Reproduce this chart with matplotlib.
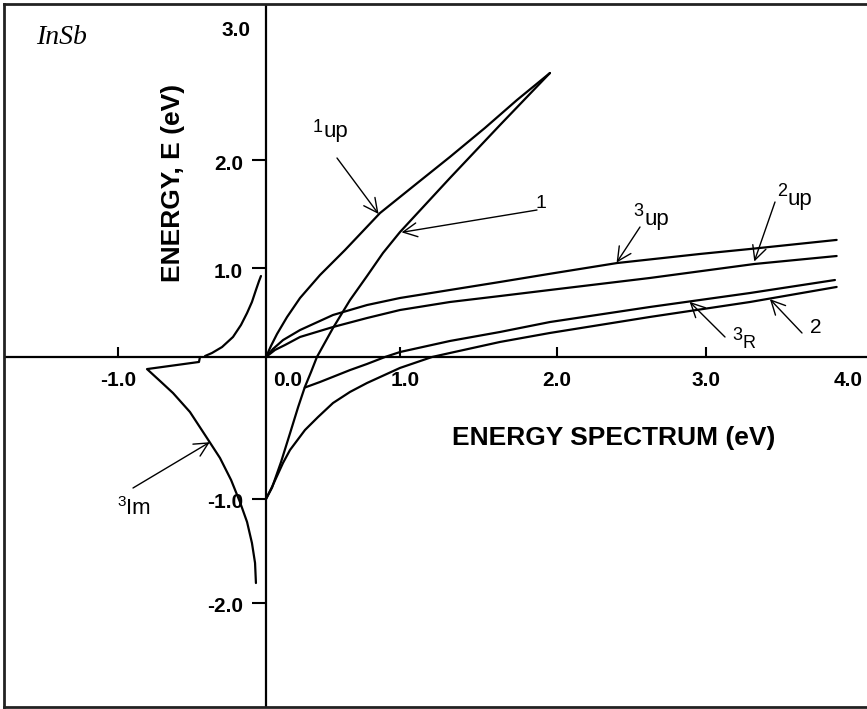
import numpy as np
import matplotlib.pyplot as plt

plt.rcParams["font.family"] = ["Liberation Sans", "DejaVu Sans"]

# spectrum branches for InSb, energies in eV
up1_x = [0.0, 0.037, 0.082, 0.157, 0.254, 0.403, 0.59, 0.851, 1.127, 1.318, 1.541, 1.745, 1.955]
up1_e = [0.0, 0.124, 0.258, 0.449, 0.663, 0.921, 1.167, 1.509, 1.806, 2.023, 2.241, 2.451, 2.654]

b1_x = [0.0, 0.045, 0.112, 0.18, 0.24, 0.29, 0.336, 0.38, 0.50, 0.627, 0.754, 0.873, 1.0, 1.318, 1.637, 1.955]
b1_e = [-1.0, -0.92, -0.74, -0.535, -0.352, -0.211, -0.106, 0.0, 0.326, 0.64, 0.91, 1.139, 1.333, 1.833, 2.263, 2.654]

b2_x = [0.0, 0.045, 0.127, 0.179, 0.291, 0.388, 0.50, 0.627, 0.754, 1.0, 1.204, 1.318, 1.637, 1.955, 2.624, 3.31, 3.92]
b2_e = [-1.0, -0.915, -0.746, -0.655, -0.514, -0.423, -0.324, -0.246, -0.183, -0.077, 0.0, 0.045, 0.169, 0.27, 0.45, 0.618, 0.787]

up3_x = [0.0, 0.052, 0.127, 0.254, 0.50, 0.754, 1.0, 1.318, 1.637, 1.955, 2.403, 2.96, 3.31, 3.92]
up3_e = [0.0, 0.09, 0.19, 0.303, 0.472, 0.584, 0.663, 0.753, 0.843, 0.935, 1.046, 1.13, 1.176, 1.26]

up2_x = [0.0, 0.067, 0.142, 0.254, 0.50, 0.754, 1.0, 1.318, 1.637, 1.955, 2.624, 3.34, 3.92]
up2_e = [0.0, 0.079, 0.135, 0.225, 0.337, 0.438, 0.528, 0.618, 0.685, 0.753, 0.888, 1.037, 1.111]

re3_x = [0.29, 0.403, 0.515, 0.627, 0.754, 0.888, 1.0, 1.318, 1.637, 1.955, 2.624, 3.31, 3.908]
re3_e = [-0.215, -0.176, -0.134, -0.092, -0.049, 0.0, 0.056, 0.18, 0.281, 0.393, 0.562, 0.719, 0.865]

# branch above the axis at negative energies
neg_x = [-0.412, -0.365, -0.297, -0.223, -0.169, -0.128, -0.095, -0.068, -0.047, -0.034]
neg_e = [0.011, 0.045, 0.112, 0.225, 0.36, 0.494, 0.618, 0.753, 0.854, 0.91]

im3_x = [-0.446, -0.453, -0.804, -0.716, -0.628, -0.514, -0.399, -0.311, -0.236, -0.176,
         -0.128, -0.095, -0.074, -0.068]
im3_e = [0.0, -0.035, -0.085, -0.169, -0.254, -0.387, -0.570, -0.711, -0.866, -1.029,
         -1.221, -1.423, -1.615, -1.808]

x_ticks = [-1.0, 1.0, 2.0, 3.0]
x_labels = ["-1.0", "0.0", "1.0", "2.0", "3.0", "4.0"]
x_label_at = [-1.0, 0.0, 1.0, 2.0, 3.0, 4.0]
y_ticks = [2.0, 1.0, -1.0, -2.0]
y_labels = ["3.0", "2.0", "1.0", "-1.0", "-2.0"]
y_label_at = [3.0, 2.0, 1.0, -1.0, -2.0]

# the drawn axes are not evenly spaced, so map values through knots
XK_DATA = [-1.77, -1.0, 0.0, 1.0, 2.0, 3.0, 4.0, 4.134]
XK_PX = [4, 118, 266, 400, 557, 706, 848, 867]
YK_DATA = [-3.0, -2.0, -1.0, 0.0, 1.0, 2.0, 3.0, 3.17]
YK_PX = [-707, -603, -499, -357, -268, -160, -27, -4]

W, H = 867, 709


def piecewise(v, xp, fp):
    v = np.asarray(v, dtype=float)
    s0 = (fp[1] - fp[0]) / (xp[1] - xp[0])
    s1 = (fp[-1] - fp[-2]) / (xp[-1] - xp[-2])
    return np.where(v < xp[0], fp[0] + (v - xp[0]) * s0,
                    np.where(v > xp[-1], fp[-1] + (v - xp[-1]) * s1,
                             np.interp(v, xp, fp)))


def px(x, y):
    return (x / W, 1 - y / H)


fig = plt.figure(figsize=(W / 100, H / 100), dpi=100)
ax = fig.add_axes([4 / W, 1 - 707 / H, 863 / W, 703 / H])
ax.set_xscale("function", functions=(lambda v: piecewise(v, XK_DATA, XK_PX),
                                     lambda v: piecewise(v, XK_PX, XK_DATA)))
ax.set_yscale("function", functions=(lambda v: piecewise(v, YK_DATA, YK_PX),
                                     lambda v: piecewise(v, YK_PX, YK_DATA)))
ax.set_xlim(XK_DATA[0], XK_DATA[-1])
ax.set_ylim(YK_DATA[0], YK_DATA[-1])
ax.set_xticks([])
ax.set_yticks([])
ax.spines["right"].set_visible(False)
for s in ("left", "top", "bottom"):
    ax.spines[s].set_linewidth(2.0)
    ax.spines[s].set_color("#222222")

ax.axhline(0, color="k", lw=1.6)
ax.axvline(0, color="k", lw=1.6)
ax.plot(x_ticks, np.zeros(len(x_ticks)), ls="none", marker=2, ms=7, mew=1.5, color="k")
ax.plot(np.zeros(len(y_ticks)), y_ticks, ls="none", marker=0, ms=10, mew=1.5, color="k")

for xv, lab in zip(x_label_at, x_labels):
    dx = 22 if xv == 0 else (5 if xv == 1 else 0)
    ax.annotate(lab, (xv, 0), xytext=(dx, -24), textcoords="offset pixels",
                ha="center", va="center", fontsize=15, fontweight="bold")
for yv, lab in zip(y_label_at, y_labels):
    dx = -16 if yv == 3 else -23
    ax.annotate(lab, (0, yv), xytext=(dx, -4), textcoords="offset pixels",
                ha="right", va="center", fontsize=15, fontweight="bold")

line_kw = dict(color="k", lw=1.6, solid_capstyle="round", solid_joinstyle="round")
for xs, es in [(up1_x, up1_e), (b1_x, b1_e), (b2_x, b2_e), (up3_x, up3_e),
               (up2_x, up2_e), (re3_x, re3_e), (neg_x, neg_e), (im3_x, im3_e)]:
    ax.plot(xs, es, **line_kw)

arrow_kw = dict(arrowstyle="->,head_length=0.5,head_width=0.25", lw=1.0,
                color="k", shrinkA=0, shrinkB=0, mutation_scale=20)

# (arrow tail in pixels, arrow tip on the curve)
arrows = [
    ((337, 158), (0.84, 1.50)),
    ((537, 210), (1.01, 1.33)),
    ((640, 227), (2.40, 1.05)),
    ((775, 202), (3.34, 1.06)),
    ((725, 337), (2.89, 0.62)),
    ((802, 333), (3.45, 0.65)),
    ((133, 488), (-0.38, -0.60)),
]
for tail, tip in arrows:
    ax.annotate("", xy=tip, xycoords="data", xytext=px(*tail),
                textcoords="figure fraction", arrowprops=arrow_kw)

# curve labels: digit plus raised/lowered suffix
labels = [
    ("1", (318, 127), 13), ("up", (336, 131), 16),
    ("1", (541, 203), 14),
    ("3", (638, 211), 13), ("up", (657, 220), 16),
    ("2", (782, 192), 13), ("up", (800, 199), 16),
    ("3", (737, 336), 13), ("R", (749, 344), 13),
    ("2", (816, 328), 15),
    ("3", (122, 502), 11), ("Im", (138, 509), 16),
]
for txt, pos, fs in labels:
    fig.text(*px(*pos), txt, ha="center", va="center", fontsize=fs)

fig.text(*px(614, 438), "ENERGY SPECTRUM (eV)", ha="center", va="center",
         fontsize=19, fontweight="bold")
fig.text(*px(173, 183), "ENERGY, E (eV)", ha="center", va="center",
         rotation=90, fontsize=19, fontweight="bold")
fig.text(*px(62, 38), "InSb", ha="center", va="center", fontsize=20,
         family="Liberation Serif", style="italic")

fig.savefig("out.png", dpi=100)
